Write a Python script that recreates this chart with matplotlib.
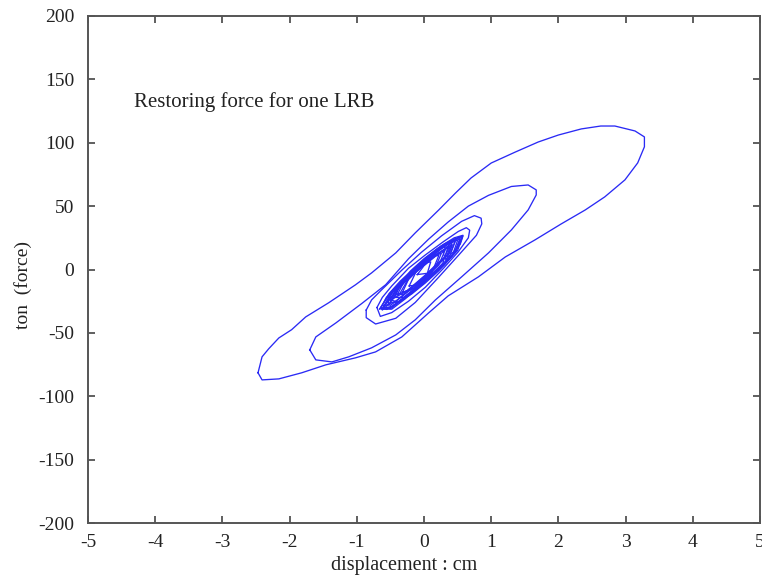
import matplotlib
matplotlib.use("Agg")
import matplotlib.pyplot as plt

plt.rcParams["font.family"] = ["Liberation Serif", "DejaVu Serif"]

# Axis ticks
x_ticks = [-5, -4, -3, -2, -1, 0, 1, 2, 3, 4, 5]
y_ticks = [-200, -150, -100, -50, 0, 50, 100, 150, 200]

# Largest hysteresis cycle (displacement cm, force ton)
disp_cycle1 = [-2.47, -2.41, -2.31, -2.16, -1.97, -1.76, -1.42, -1.02, -0.78, -0.42,
               -0.13, 0.22, 0.47, 0.70, 1.00, 1.36, 1.70, 2.00, 2.34, 2.63,
               2.84, 3.14, 3.28, 3.28, 3.18, 2.99, 2.69, 2.40, 2.04, 1.65,
               1.21, 0.81, 0.36, 0.07, -0.33, -0.72, -1.02, -1.46, -1.82, -2.16,
               -2.41, -2.47]
force_cycle1 = [-81.5, -68.9, -62.5, -54.0, -47.5, -37.4, -26.3, -12.1, -2.7, 13.1,
                28.9, 47.0, 60.4, 72.2, 84.0, 92.7, 100.6, 106.1, 110.9, 113.2,
                113.2, 109.3, 104.6, 96.8, 84.1, 70.7, 57.3, 47.0, 35.9, 23.3,
                9.9, -5.8, -20.8, -34.2, -53.2, -65.0, -69.7, -75.2, -81.5, -86.3,
                -87.1, -81.5]

# Second cycle
disp_cycle2 = [-1.70, -1.61, -1.31, -0.93, -0.57, -0.23, 0.07, 0.36, 0.66, 0.96,
               1.30, 1.55, 1.67, 1.67, 1.55, 1.30, 0.96, 0.56, 0.17, -0.13,
               -0.42, -0.78, -1.12, -1.37, -1.61, -1.70]
force_cycle2 = [-63.4, -53.2, -42.1, -27.0, -12.0, 8.5, 24.0, 37.5, 50.0, 58.5,
                65.5, 66.7, 62.8, 58.8, 47.0, 31.2, 13.1, -5.8, -24.0, -39.7,
                -51.6, -61.8, -68.9, -72.9, -71.3, -63.4]

# Third cycle
disp_cycle3 = [-0.86, -0.78, -0.63, -0.33, -0.04, 0.26, 0.56, 0.75, 0.85,
               0.86, 0.78, 0.51, 0.22, -0.13, -0.42, -0.72, -0.86, -0.86]
force_cycle3 = [-32.0, -24.0, -16.0, -0.5, 13.5, 26.5, 38.0, 42.5, 40.5,
                36.0, 27.0, 11.0, -6.0, -26.0, -38.5, -43.0, -38.0, -32.0]

# Fourth cycle
disp_cycle4 = [-0.70, -0.62, -0.48, -0.23, 0.02, 0.29, 0.51, 0.63, 0.68,
               0.66, 0.51, 0.29, 0.02, -0.23, -0.48, -0.65, -0.70]
force_cycle4 = [-30.0, -22.0, -13.0, 1.0, 11.5, 22.0, 30.0, 33.0, 31.0,
                25.0, 14.0, 1.0, -14.0, -25.0, -34.0, -37.0, -30.0]

# Small residual cycles near the origin
disp_small = [
    [-0.60, -0.50, -0.30, -0.10, 0.10, 0.30, 0.45, 0.54, 0.45, 0.30, 0.10, -0.10, -0.30, -0.50, -0.60],
    [-0.50, -0.40, -0.20, 0.00, 0.20, 0.38, 0.46, 0.38, 0.20, 0.00, -0.20, -0.40, -0.50],
    [-0.64, -0.52, -0.35, -0.15, 0.05, 0.25, 0.36, 0.28, 0.10, -0.10, -0.30, -0.50, -0.64],
    [-0.44, -0.35, -0.15, 0.05, 0.25, 0.45, 0.58, 0.50, 0.30, 0.10, -0.10, -0.30, -0.44],
    [-0.36, -0.25, -0.05, 0.15, 0.32, 0.22, 0.05, -0.15, -0.32, -0.36],
    [-0.62, -0.50, -0.30, -0.10, 0.10, 0.30, 0.42, 0.32, 0.12, -0.08, -0.28, -0.48, -0.62],
    [-0.22, -0.12, 0.08, 0.28, 0.45, 0.57, 0.48, 0.30, 0.10, -0.10, -0.22],
    [-0.66, -0.55, -0.38, -0.18, 0.02, 0.10, 0.04, -0.15, -0.35, -0.55, -0.66],
    [-0.50, -0.40, -0.20, 0.00, 0.20, 0.40, 0.50, 0.42, 0.22, 0.02, -0.18, -0.38, -0.50],
    [-0.58, -0.46, -0.26, -0.06, 0.14, 0.22, 0.12, -0.08, -0.28, -0.48, -0.58],
    [-0.32, -0.22, -0.02, 0.18, 0.38, 0.54, 0.46, 0.26, 0.06, -0.14, -0.32],
    [-0.54, -0.40, -0.20, 0.00, 0.20, 0.38, 0.28, 0.08, -0.12, -0.32, -0.50, -0.54],
    [0.28, 0.40, 0.50, 0.58, 0.54, 0.44, 0.32, 0.28],
    [-0.64, -0.56, -0.46, -0.36, -0.42, -0.52, -0.62, -0.64],
    [-0.46, -0.36, -0.16, 0.04, 0.24, 0.42, 0.34, 0.14, -0.06, -0.26, -0.46],
    [-0.40, -0.30, -0.10, 0.10, 0.30, 0.48, 0.40, 0.20, 0.00, -0.20, -0.40],
    [-0.60, -0.48, -0.28, -0.08, 0.12, 0.26, 0.18, -0.02, -0.22, -0.42, -0.60],
    [-0.10, 0.00, 0.15, 0.30, 0.42, 0.36, 0.20, 0.05, -0.10],
]
force_small = [
    [-30, -19, -7, 3, 12, 20, 24, 25, 13, 3.5, -6, -15, -23, -30, -30],
    [-26, -14.5, -3, 6.5, 15, 21, 22, 10, -0.5, -9.5, -18, -26, -26],
    [-30, -19, -9, 0.5, 10, 17, 18, 5, -5, -14, -23, -31, -30],
    [-22, -11.5, 0, 10, 18.5, 25, 27, 15, 4, -6, -14.5, -22, -22],
    [-19, -9, 2, 11, 16, 3.5, -5, -14.5, -20, -19],
    [-31, -22.3, -10.7, -1.1, 8.1, 15.7, 19, 6, -5, -14, -23.2, -31.3, -31],
    [-13, -2, 9, 18, 24, 26, 14.8, 5.2, -3.9, -12.1, -13],
    [-31, -22.5, -11.8, -2.7, 5.4, 6, -4.7, -15.3, -24.4, -31.5, -31],
    [-24, -13.7, -1.1, 8.5, 16.6, 22.7, 23, 10.6, -1, -10.6, -19.2, -25.8, -24],
    [-28, -17.4, -5.3, 3.8, 10.9, 11, -2, -13.1, -22.2, -29.3, -28],
    [-18, -6.5, 5.6, 14.7, 21.8, 24, 13.4, 2.3, -6.8, -14.9, -18],
    [-26, -15.7, -5.6, 3.5, 12.6, 18, 7.2, -2.9, -12, -21.1, -28.3, -26],
    [14, 21, 25, 26.5, 20, 14, 8, 14],
    [-30, -22, -16, -12, -20, -27, -32, -30],
    [-23, -13, -2, 8, 16, 22, 11, 1, -8, -17, -23],
    [-20, -10, -0.5, 9.5, 18, 24, 14, 4, -6.5, -15.5, -20],
    [-29, -19, -8, 1.5, 9.5, 13, 3, -6.5, -16, -25, -29],
    [-4, 3, 9.5, 16, 20, 12, 5, -3, -4],
]

line_color = "#2a2af5"
lw = 0.95

fig = plt.figure(figsize=(7.62, 5.79), dpi=100)
ax = fig.add_axes([88 / 762, 1 - 523 / 579, 672 / 762, 507 / 579])

line_kw = dict(color=line_color, lw=lw, solid_joinstyle="round")
for dx, fy in zip(disp_small, force_small):
    ax.plot(dx, fy, **line_kw)
ax.plot(disp_cycle4, force_cycle4, **line_kw)
ax.plot(disp_cycle3, force_cycle3, **line_kw)
ax.plot(disp_cycle2, force_cycle2, **line_kw)
ax.plot(disp_cycle1, force_cycle1, **line_kw)

ax.set_xlim(-5, 5)
ax.set_ylim(-200, 200)
ax.set_xticks(x_ticks)
ax.set_yticks(y_ticks)
ax.set_xticklabels([str(t) for t in x_ticks])
ax.set_yticklabels([str(t) for t in y_ticks])

for s in ax.spines.values():
    s.set_color("#555555")
    s.set_linewidth(1.4)

ax.tick_params(axis="both", direction="in", length=5, width=1.2, color="#444444",
               labelsize=14, labelcolor="#222222", top=True, right=True)
ax.tick_params(axis="y", pad=10)
ax.tick_params(axis="x", pad=8)

ax.text(-4.31, 132, "Restoring force for one LRB", fontsize=15,
        ha="left", va="center", color="#222222")

ax.set_xlabel("displacement : cm", fontsize=14.5, color="#222222")
ax.xaxis.set_label_coords(0.47, -0.083)
ax.xaxis.label.set_va("center")
ax.set_ylabel("ton  (force)", fontsize=14, color="#222222")
ax.yaxis.set_label_coords(-0.097, 0.469)
ax.yaxis.label.set_va("center")

fig.savefig("out.png", dpi=100)
